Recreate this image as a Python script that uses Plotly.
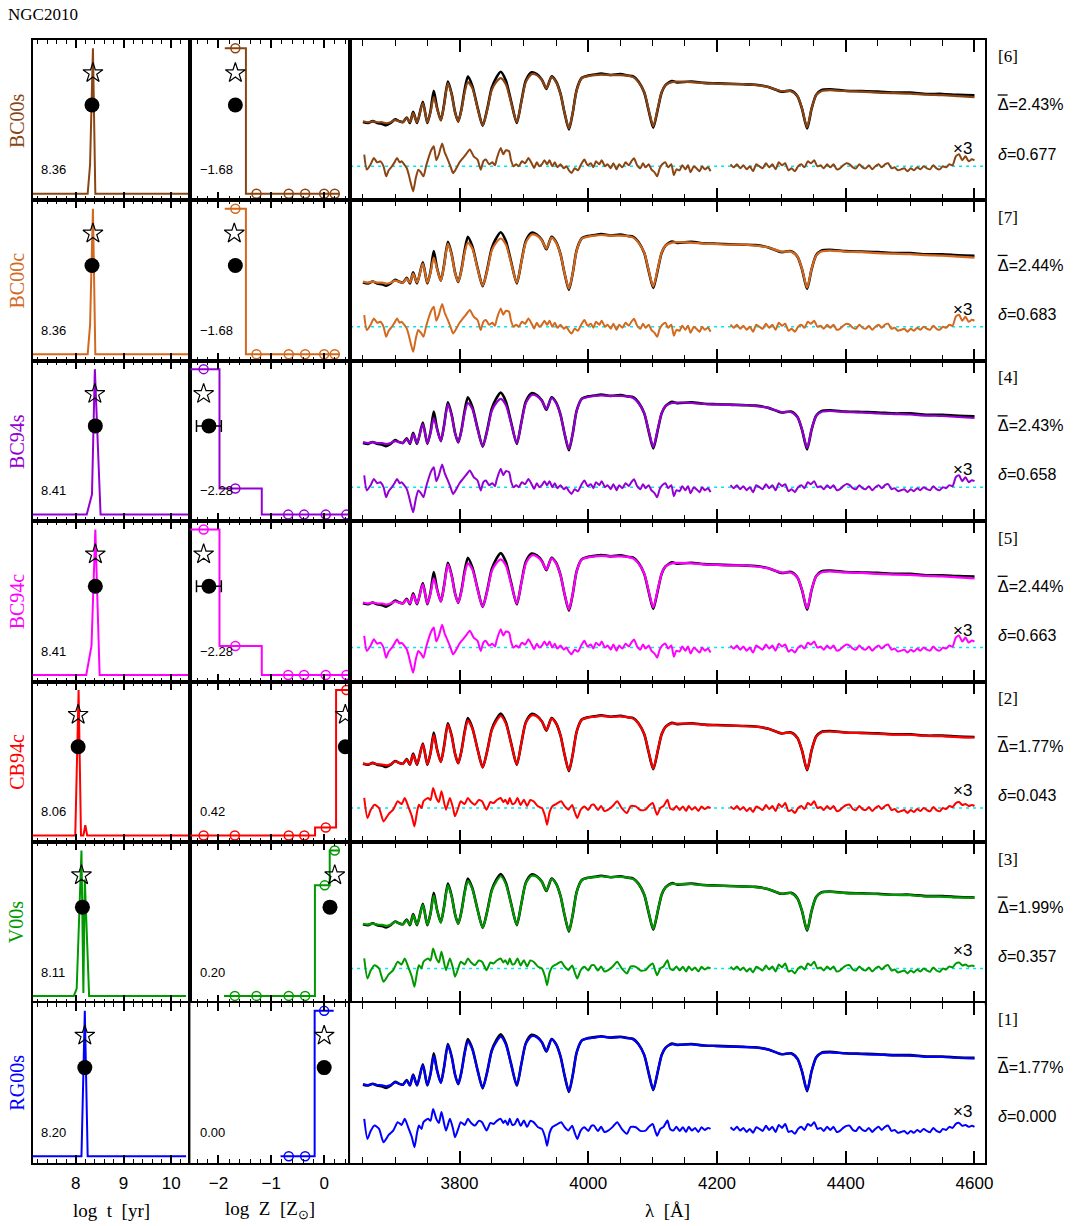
import plotly.graph_objects as go

# ---------------- data ----------------
MODELS = ["BC00s", "BC00c", "BC94s", "BC94c", "CB94c", "V00s", "RG00s"]
COLORS = ["#8B4513", "#D2691E", "#9400D3", "#FF00FF", "#FF0000", "#009900", "#0000FF"]
RANK = ["[6]", "[7]", "[4]", "[5]", "[2]", "[3]", "[1]"]
MEAN_DEV = ["2.43", "2.44", "2.43", "2.44", "1.77", "1.99", "1.77"]
DELTA = ["0.677", "0.683", "0.658", "0.663", "0.043", "0.357", "0.000"]
AGE_LABEL = ["8.36", "8.36", "8.41", "8.41", "8.06", "8.11", "8.20"]
Z_LABEL = ["\u22121.68", "\u22121.68", "\u22122.28", "\u22122.28", "0.42", "0.20", "0.00"]

# age distributions (log t, weight)
AGE_X = [
    [7.1, 8.25, 8.30, 8.36, 8.41, 10.38],
    [7.1, 8.25, 8.30, 8.36, 8.41, 10.38],
    [7.1, 8.23, 8.34, 8.40, 8.52, 10.38],
    [7.1, 8.22, 8.33, 8.41, 8.50, 10.38],
    [7.1, 7.99, 8.06, 8.11, 8.16, 8.20, 8.24, 10.37],
    [7.1, 7.96, 8.02, 8.12, 8.16, 8.19, 8.28, 10.31],
    [7.1, 8.12, 8.19, 8.25, 10.31],
]
AGE_W = [
    [0, 0, 0.2, 1.0, 0, 0],
    [0, 0, 0.2, 1.0, 0, 0],
    [0, 0, 0.14, 1.0, 0, 0],
    [0, 0, 0.2, 1.0, 0, 0],
    [0, 0, 1.0, 0, 0, 0.07, 0, 0],
    [0, 0, 0.05, 1.0, 0.02, 0.8, 0, 0],
    [0, 0, 1.0, 0, 0],
]
# metallicity grids (log Z/Zsun) and weights
Z_GRID = [
    [-1.68, -1.28, -0.67, -0.36, 0.0, 0.2],
    [-1.68, -1.28, -0.67, -0.36, 0.0, 0.2],
    [-2.28, -1.68, -0.68, -0.38, 0.03, 0.42],
    [-2.28, -1.68, -0.68, -0.38, 0.03, 0.42],
    [-2.28, -1.69, -0.67, -0.375, 0.03, 0.42],
    [-1.69, -1.28, -0.67, -0.36, 0.01, 0.2],
    [-0.67, -0.36, 0.0],
]
Z_W = [
    [1.0, 0, 0, 0, 0, 0],
    [1.0, 0, 0, 0, 0, 0],
    [1.0, 0.18, 0, 0, 0, 0],
    [1.0, 0.2, 0, 0, 0, 0],
    [0, 0, 0, 0, 0.055, 1.0],
    [0, 0, 0, 0, 0.76, 1.0],
    [0, 0, 1.0],
]
STAR_AGE = [8.36, 8.36, 8.40, 8.41, 8.05, 8.12, 8.19]
DOT_AGE = [8.34, 8.34, 8.41, 8.41, 8.05, 8.14, 8.19]
STAR_Z = [-1.68, -1.70, -2.28, -2.28, 0.40, 0.20, 0.0]
DOT_Z = [-1.68, -1.68, -2.18, -2.18, 0.40, 0.11, 0.0]
DOT_Z_ERR = [0.04, 0.04, 0.235, 0.235, 0.02, 0.04, 0.0]
STAR_LEVEL = 0.83
DOT_LEVEL = 0.61

# spectrum (normalised flux)
WAVE = [3650, 3658, 3665, 3672, 3680, 3686, 3693, 3700, 3706, 3712, 3718, 3723, 3728, 3734,
        3743, 3750, 3755, 3760, 3765, 3771, 3776, 3782, 3788, 3793, 3798, 3803, 3808, 3813,
        3820, 3828, 3836, 3843, 3850, 3857, 3864, 3872, 3880, 3889, 3896, 3903, 3912, 3920,
        3928, 3935, 3943, 3950, 3957, 3963, 3970, 3976, 3982, 3990, 4000, 4010, 4020, 4035,
        4050, 4061, 4070, 4078, 4087, 4094, 4101, 4108, 4114, 4120, 4130, 4138, 4160, 4180,
        4200, 4220, 4240, 4260, 4280, 4300, 4315, 4325, 4332, 4340, 4347, 4354, 4362, 4375,
        4400, 4425, 4450, 4475, 4500, 4525, 4550, 4575, 4600]
FLUX_OBS = [0.48, 0.47, 0.49, 0.47, 0.46, 0.445, 0.47, 0.51, 0.49, 0.48, 0.53, 0.47, 0.59, 0.47,
            0.70, 0.47, 0.60, 0.82, 0.64, 0.50, 0.67, 0.92, 0.78, 0.59, 0.485, 0.62, 0.83, 0.975,
            0.87, 0.64, 0.44, 0.62, 0.85, 0.96, 1.025, 0.93, 0.71, 0.47, 0.70, 0.93, 1.02, 1.0,
            0.94, 0.84, 0.975, 0.92, 0.785, 0.585, 0.40, 0.585, 0.83, 0.96, 0.985, 0.995, 1.005, 0.99,
            1.0, 0.985, 0.975, 0.92, 0.80, 0.60, 0.42, 0.62, 0.80, 0.88, 0.925, 0.91, 0.92, 0.905,
            0.90, 0.895, 0.89, 0.885, 0.86, 0.81, 0.82, 0.76, 0.625, 0.41, 0.625, 0.775, 0.825, 0.835,
            0.82, 0.815, 0.81, 0.80, 0.80, 0.785, 0.785, 0.775, 0.77]
FLUX_MODEL_A = [0.489, 0.478, 0.489, 0.478, 0.478, 0.467, 0.478, 0.50, 0.489, 0.478, 0.522, 0.478, 0.576, 0.478,
                0.685, 0.478, 0.587, 0.75, 0.63, 0.50, 0.663, 0.902, 0.772, 0.587, 0.489, 0.609, 0.804, 0.913,
                0.848, 0.63, 0.446, 0.609, 0.826, 0.913, 0.957, 0.891, 0.696, 0.478, 0.696, 0.913, 1.0, 0.989,
                0.935, 0.848, 0.967, 0.913, 0.783, 0.587, 0.413, 0.587, 0.826, 0.957, 0.978, 0.989, 0.995, 0.989,
                0.989, 0.984, 0.967, 0.913, 0.804, 0.609, 0.435, 0.63, 0.804, 0.88, 0.913, 0.918, 0.913, 0.902,
                0.897, 0.891, 0.891, 0.88, 0.859, 0.815, 0.815, 0.761, 0.63, 0.424, 0.63, 0.772, 0.815, 0.826,
                0.815, 0.81, 0.799, 0.793, 0.788, 0.777, 0.772, 0.761, 0.75]
FLUX_MODEL_B = [0.485, 0.475, 0.487, 0.476, 0.472, 0.462, 0.475, 0.505, 0.49, 0.478, 0.525, 0.475, 0.58, 0.475,
                0.69, 0.475, 0.595, 0.79, 0.635, 0.50, 0.665, 0.905, 0.775, 0.59, 0.487, 0.615, 0.815, 0.95,
                0.86, 0.635, 0.443, 0.615, 0.84, 0.94, 1.0, 0.915, 0.705, 0.474, 0.70, 0.925, 1.005, 0.995,
                0.938, 0.845, 0.97, 0.917, 0.785, 0.587, 0.407, 0.587, 0.828, 0.958, 0.982, 0.99, 1.0, 0.99,
                0.994, 0.985, 0.97, 0.917, 0.802, 0.605, 0.428, 0.625, 0.802, 0.88, 0.918, 0.914, 0.916, 0.903,
                0.898, 0.893, 0.89, 0.882, 0.86, 0.812, 0.817, 0.76, 0.628, 0.417, 0.628, 0.773, 0.82, 0.83,
                0.818, 0.812, 0.805, 0.797, 0.795, 0.782, 0.78, 0.77, 0.765]

# residuals (x3, same flux units), blue and red segments
RES_WAVE_BLUE_A = [3652, 3656, 3662, 3667, 3672, 3677, 3682, 3686, 3690, 3695, 3699, 3703, 3707, 3710,
                   3714, 3718, 3721, 3724, 3728, 3732, 3736, 3740, 3744, 3748, 3751, 3756, 3760, 3764,
                   3768, 3773, 3777, 3781, 3786, 3790, 3795, 3800, 3805, 3810, 3816, 3822, 3828, 3833,
                   3837, 3841, 3846, 3851, 3855, 3858, 3864, 3868, 3872, 3877, 3880, 3884, 3888, 3892,
                   3897, 3902, 3907, 3912, 3916, 3920, 3924, 3928, 3932, 3936, 3940, 3944, 3948, 3952,
                   3957, 3962, 3966, 3970, 3974, 3979, 3984, 3989, 3994, 3999, 4004, 4008, 4012, 4017,
                   4021, 4026, 4030, 4035, 4039, 4044, 4048, 4053, 4058, 4063, 4067, 4071, 4076, 4081,
                   4085, 4089, 4094, 4098, 4103, 4107, 4111, 4115, 4120, 4124, 4129, 4133, 4137, 4142,
                   4146, 4151, 4155, 4159, 4164, 4168, 4173, 4177, 4181, 4186, 4190]
RES_BLUE_A = [0.127, -0.036, 0.022, 0.09, 0.043, 0.054, 0.0, -0.109, -0.043, 0.0, 0.043, 0.09, 0.043, 0.054,
              0.022, -0.018, -0.087, -0.174, -0.272, -0.13, -0.036, -0.065, -0.109, 0.0, 0.073, 0.174, 0.217, 0.065,
              0.13, 0.247, 0.152, 0.087, 0.0, -0.073, -0.022, 0.043, 0.087, 0.13, 0.182, 0.109, 0.073, -0.036,
              0.054, 0.073, 0.022, 0.043, 0.011, 0.087, 0.199, 0.13, 0.174, 0.163, 0.065, 0.0, 0.022, 0.0,
              0.054, 0.033, 0.09, 0.033, -0.018, 0.043, 0.0, 0.022, 0.065, 0.022, 0.065, 0.0, 0.043, -0.011,
              0.022, -0.022, 0.0, -0.043, -0.073, -0.022, -0.043, 0.022, 0.073, 0.011, 0.033, -0.011, 0.054, 0.022,
              0.065, 0.0, 0.022, -0.022, 0.033, -0.033, 0.022, -0.011, 0.043, 0.011, 0.054, 0.087, 0.011, -0.022,
              0.033, -0.011, 0.022, -0.033, -0.065, -0.109, -0.022, 0.022, 0.043, -0.011, 0.022, -0.098, -0.033, -0.043,
              0.011, -0.033, 0.011, -0.065, 0.0, -0.022, -0.054, 0.0, -0.033, -0.011, -0.054]
RES_WAVE_BLUE_B = [3652, 3657, 3662, 3668, 3675, 3682, 3690, 3697, 3704, 3710, 3715, 3720, 3726, 3730,
                   3734, 3737, 3741, 3744, 3751, 3755, 3759, 3764, 3768, 3772, 3779, 3785, 3790, 3793,
                   3798, 3802, 3808, 3813, 3818, 3824, 3830, 3835, 3842, 3848, 3853, 3858, 3864, 3868,
                   3871, 3875, 3878, 3882, 3886, 3890, 3895, 3900, 3905, 3910, 3915, 3922, 3928, 3933,
                   3936, 3940, 3944, 3950, 3958, 3963, 3969, 3975, 3979, 3983, 3988, 3994, 4000, 4005,
                   4009, 4015, 4020, 4025, 4031, 4038, 4045, 4052, 4060, 4066, 4074, 4081, 4089, 4094,
                   4100, 4104, 4107, 4112, 4117, 4123, 4127, 4132, 4137, 4142, 4147, 4152, 4156, 4161,
                   4166, 4171, 4176, 4181, 4186, 4190]
RES_BLUE_B = [0.109, -0.109, -0.022, 0.036, 0.0, -0.145, -0.065, -0.018, 0.073, 0.043, 0.109, 0.022, -0.09, -0.199,
              -0.043, 0.036, 0.0, 0.073, 0.109, 0.087, 0.217, 0.109, 0.065, 0.182, -0.018, 0.109, 0.0, -0.09,
              0.0, 0.073, 0.043, 0.109, 0.065, 0.036, 0.087, 0.073, -0.018, 0.065, 0.054, 0.087, 0.109, 0.065,
              0.09, 0.043, 0.109, 0.043, 0.054, 0.109, 0.033, 0.09, 0.022, 0.087, 0.073, 0.018, 0.0, -0.09,
              -0.182, -0.043, 0.018, 0.043, 0.073, 0.022, -0.018, 0.033, -0.043, -0.109, -0.022, 0.018, -0.022, 0.033,
              0.036, -0.022, 0.022, -0.033, -0.018, 0.022, 0.073, 0.0, -0.054, 0.022, 0.018, -0.022, -0.018, 0.022,
              0.054, -0.022, -0.073, 0.0, 0.022, 0.09, 0.0, -0.018, 0.022, -0.022, 0.018, -0.033, 0.022, -0.018,
              0.011, -0.033, 0.018, -0.011, 0.011, 0.0]
RES_WAVE_RED = [4221, 4226, 4231, 4236, 4241, 4246, 4251, 4256, 4261, 4266, 4271, 4276, 4281, 4286,
                4291, 4296, 4301, 4306, 4311, 4316, 4321, 4326, 4331, 4336, 4341, 4346, 4351, 4356,
                4361, 4366, 4371, 4376, 4381, 4386, 4391, 4396, 4401, 4406, 4411, 4416, 4421, 4426,
                4431, 4436, 4441, 4446, 4451, 4456, 4461, 4466, 4471, 4476, 4481, 4486, 4491, 4496,
                4501, 4506, 4511, 4516, 4521, 4526, 4531, 4536, 4541, 4546, 4551, 4556, 4561, 4566,
                4571, 4576, 4581, 4586, 4591, 4596, 4600]
RES_RED_A = [0.022, -0.011, 0.022, -0.022, 0.011, -0.033, 0.0, -0.054, 0.022, 0.0, -0.022, 0.033, -0.011, 0.022,
             -0.033, 0.043, 0.011, 0.033, -0.043, -0.022, -0.054, 0.0, 0.022, -0.011, 0.054, 0.033, 0.065, 0.0,
             0.011, -0.022, 0.022, -0.011, 0.022, -0.033, -0.022, 0.011, 0.033, 0.022, -0.011, -0.022, 0.022, -0.011,
             -0.022, 0.011, -0.033, 0.0, 0.022, -0.011, 0.022, 0.033, -0.022, -0.011, -0.043, -0.033, -0.022, -0.054,
             -0.022, -0.043, -0.011, -0.033, 0.0, -0.022, -0.033, 0.011, -0.022, -0.033, 0.0, -0.011, 0.022, 0.011,
             0.109, 0.13, 0.065, 0.109, 0.054, 0.076, 0.065]
RES_RED_B = [0.018, -0.011, 0.022, -0.018, 0.011, -0.033, 0.0, -0.043, 0.018, 0.0, -0.022, 0.033, -0.011, 0.022,
             -0.033, 0.043, 0.011, 0.054, -0.033, -0.022, -0.054, 0.0, 0.022, -0.011, 0.054, 0.033, 0.073, 0.0,
             0.011, -0.022, 0.022, -0.011, 0.022, -0.033, -0.022, 0.011, 0.033, 0.036, -0.011, -0.022, 0.022, -0.011,
             -0.022, 0.011, -0.033, 0.0, 0.022, -0.011, 0.022, 0.036, -0.022, -0.011, -0.043, -0.033, -0.022, -0.054,
             -0.022, -0.043, -0.011, -0.033, 0.0, -0.022, -0.036, 0.011, -0.022, -0.036, 0.0, -0.011, 0.022, 0.011,
             0.054, 0.065, 0.033, 0.043, 0.022, 0.033, 0.022]

AGE_TICKS = [8, 9, 10]
Z_TICKS = [-2, -1, 0]
Z_TICKTEXT = ["\u22122", "\u22121", "0"]
WAVE_TICKS = [3800, 4000, 4200, 4400, 4600]

# ---------------- layout geometry ----------------
W, H = 1087, 1226
COLS = [(33, 192), (192, 353), (353, 993)]
ROW_TOP = 40.0
ROW_H = 160.43
X_RANGES = [[7.1, 10.4], [-2.53, 0.49], [3630, 4616]]
Y_RANGE_HIST = [-0.046, 1.057]
Y_RANGE_SPEC = [-0.37, 1.37]

SANS = "Liberation Sans, Arial, sans-serif"
SERIF = "Liberation Serif, Times New Roman, serif"

fig = go.Figure()
layout = {}
annotations = []
shapes = []


def step_xy(z, w):
    n = len(z)
    edges = [z[0] - (z[1] - z[0]) / 2]
    for k in range(n - 1):
        edges.append((z[k] + z[k + 1]) / 2)
    edges.append(z[-1] + (z[-1] - z[-2]) / 2)
    xs, ys = [], []
    for k in range(n):
        xs += [edges[k], edges[k + 1]]
        ys += [w[k], w[k]]
    return xs, ys


for i in range(7):
    top = ROW_TOP + i * ROW_H
    bot = top + ROW_H
    ydom = [1 - bot / H, 1 - top / H]
    col = COLORS[i]
    for j in range(3):
        n = i * 3 + j + 1
        xname = "xaxis" if n == 1 else f"xaxis{n}"
        yname = "yaxis" if n == 1 else f"yaxis{n}"
        xref = "x" if n == 1 else f"x{n}"
        yref = "y" if n == 1 else f"y{n}"
        x0, x1 = COLS[j]
        bottom_row = (i == 6)
        if j == 0:
            tv, tt, mdt, mt0, tl, mtl = AGE_TICKS, [str(v) for v in AGE_TICKS], 0.2, 8, 8, 4
        elif j == 1:
            tv, tt, mdt, mt0, tl, mtl = Z_TICKS, Z_TICKTEXT, 0.2, 0, 8, 4
        else:
            tv, tt, mdt, mt0, tl, mtl = WAVE_TICKS, [str(v) for v in WAVE_TICKS], 50, 3800, 12, 6
        layout[xname] = dict(
            domain=[x0 / W, x1 / W], range=X_RANGES[j], anchor=yref,
            tickmode="array", tickvals=tv, ticktext=tt, ticks="inside", ticklen=tl,
            tickwidth=1.5, tickcolor="black",
            minor=dict(ticks="inside", dtick=mdt, tick0=mt0, ticklen=mtl, tickwidth=1.2, tickcolor="black"),
            showline=True, linecolor="black", linewidth=2, mirror="allticks",
            showgrid=False, zeroline=False, showticklabels=bottom_row,
            tickfont=dict(family=SANS, size=17, color="black"), ticklabelstandoff=4,
        )
        layout[yname] = dict(
            domain=ydom, range=Y_RANGE_SPEC if j == 2 else Y_RANGE_HIST, anchor=xref,
            showline=True, linecolor="black", linewidth=2, mirror=True,
            ticks="", showticklabels=False, showgrid=False, zeroline=False,
        )

        if j == 0:
            fig.add_trace(go.Scatter(x=AGE_X[i], y=AGE_W[i], mode="lines", xaxis=xref, yaxis=yref,
                                     line=dict(color=col, width=2), cliponaxis=True, showlegend=False))
            fig.add_trace(go.Scatter(x=[STAR_AGE[i]], y=[STAR_LEVEL], mode="markers", xaxis=xref, yaxis=yref,
                                     marker=dict(symbol="star-open", size=15, color="black",
                                                 line=dict(width=1.2, color="black")), showlegend=False))
            fig.add_trace(go.Scatter(x=[DOT_AGE[i]], y=[DOT_LEVEL], mode="markers", xaxis=xref, yaxis=yref,
                                     marker=dict(symbol="circle", size=15, color="black"), showlegend=False))
            annotations.append(dict(text=AGE_LABEL[i], xref=f"{xref} domain", yref=f"{yref} domain",
                                    x=0.04, y=0.19, xanchor="left", yanchor="middle", showarrow=False,
                                    font=dict(family=SANS, size=13, color="black")))
        elif j == 1:
            sx, sy = step_xy(Z_GRID[i], Z_W[i])
            fig.add_trace(go.Scatter(x=sx, y=sy, mode="lines", xaxis=xref, yaxis=yref,
                                     line=dict(color=col, width=2), showlegend=False))
            fig.add_trace(go.Scatter(x=Z_GRID[i], y=Z_W[i], mode="markers", xaxis=xref, yaxis=yref,
                                     marker=dict(symbol="circle-open", size=9, color=col,
                                                 line=dict(width=1.5, color=col)),
                                     cliponaxis=False, showlegend=False))
            fig.add_trace(go.Scatter(x=[STAR_Z[i]], y=[STAR_LEVEL], mode="markers", xaxis=xref, yaxis=yref,
                                     marker=dict(symbol="star-open", size=15, color="black",
                                                 line=dict(width=1.2, color="black")), showlegend=False))
            fig.add_trace(go.Scatter(x=[DOT_Z[i]], y=[DOT_LEVEL], mode="markers", xaxis=xref, yaxis=yref,
                                     error_x=dict(type="data", array=[DOT_Z_ERR[i]], color="black",
                                                  thickness=1.5, width=6),
                                     marker=dict(symbol="circle", size=15, color="black"), showlegend=False))
            annotations.append(dict(text=Z_LABEL[i], xref=f"{xref} domain", yref=f"{yref} domain",
                                    x=0.05, y=0.19, xanchor="left", yanchor="middle", showarrow=False,
                                    font=dict(family=SANS, size=13, color="black")))
        else:
            grpA = i < 4
            model = FLUX_MODEL_A if grpA else FLUX_MODEL_B
            rwb = RES_WAVE_BLUE_A if grpA else RES_WAVE_BLUE_B
            rb = RES_BLUE_A if grpA else RES_BLUE_B
            rr = RES_RED_A if grpA else RES_RED_B
            shapes.append(dict(type="line", xref=f"{xref} domain", yref=yref, x0=0, x1=1, y0=0, y1=0,
                               line=dict(color="#00E5EE", width=1.5, dash="3px,4px"), layer="below"))
            fig.add_trace(go.Scatter(x=WAVE, y=FLUX_OBS, mode="lines", xaxis=xref, yaxis=yref,
                                     line=dict(color="black", width=2.6, shape="spline", smoothing=0.7),
                                     showlegend=False))
            fig.add_trace(go.Scatter(x=WAVE, y=model, mode="lines", xaxis=xref, yaxis=yref,
                                     line=dict(color=col, width=2.2, shape="spline", smoothing=0.7),
                                     showlegend=False))
            fig.add_trace(go.Scatter(x=rwb, y=rb, mode="lines", xaxis=xref, yaxis=yref,
                                     line=dict(color=col, width=2, shape="spline", smoothing=0.6),
                                     showlegend=False))
            fig.add_trace(go.Scatter(x=RES_WAVE_RED, y=rr, mode="lines", xaxis=xref, yaxis=yref,
                                     line=dict(color=col, width=2, shape="spline", smoothing=0.6),
                                     showlegend=False))
            annotations.append(dict(text="\u00d73", xref=xref, yref=yref, x=4582, y=0.19,
                                    xanchor="center", yanchor="middle", showarrow=False,
                                    font=dict(family=SANS, size=17, color="black")))

    # left model label
    annotations.append(dict(text=MODELS[i], xref="paper", yref="paper", x=17 / W, y=1 - (top + ROW_H / 2) / H,
                            xanchor="center", yanchor="middle", textangle=-90, showarrow=False,
                            font=dict(family=SERIF, size=20, color=col)))
    # right labels
    annotations.append(dict(text=RANK[i], xref="paper", yref="paper", x=1004 / W, y=1 - (top + 17) / H,
                            xanchor="left", yanchor="middle", showarrow=False,
                            font=dict(family=SERIF, size=17, color="black")))
    annotations.append(dict(text="\u0394=" + MEAN_DEV[i] + "%", xref="paper", yref="paper",
                            x=1004 / W, y=1 - (top + 65) / H, xanchor="left", yanchor="middle",
                            showarrow=False, font=dict(family=SANS, size=16, color="black")))
    # overbar on Delta
    shapes.append(dict(type="line", xref="paper", yref="paper", x0=1006 / W, x1=1016 / W,
                       y0=1 - (top + 55) / H, y1=1 - (top + 55) / H, line=dict(color="black", width=1.3)))
    annotations.append(dict(text="<i>\u03b4</i>=" + DELTA[i], xref="paper", yref="paper",
                            x=1004 / W, y=1 - (top + 114) / H, xanchor="left", yanchor="middle",
                            showarrow=False, font=dict(family=SANS, size=16, color="black")))

# title and axis titles
annotations.append(dict(text="NGC2010", xref="paper", yref="paper", x=6 / W, y=1 - 14 / H,
                        xanchor="left", yanchor="middle", showarrow=False,
                        font=dict(family=SERIF, size=17, color="black")))
annotations.append(dict(text="log  t  [yr]", xref="paper", yref="paper", x=112 / W, y=1 - 1210 / H,
                        xanchor="center", yanchor="middle", showarrow=False,
                        font=dict(family=SERIF, size=19, color="black")))
annotations.append(dict(text="log  Z  [Z<sub>\u2299</sub>]", xref="paper", yref="paper", x=272 / W,
                        y=1 - 1210 / H, xanchor="center", yanchor="middle", showarrow=False,
                        font=dict(family=SERIF, size=19, color="black")))
annotations.append(dict(text="\u03bb  [\u00c5]", xref="paper", yref="paper", x=673 / W, y=1 - 1210 / H,
                        xanchor="center", yanchor="middle", showarrow=False,
                        font=dict(family=SERIF, size=19, color="black")))

fig.update_layout(width=W, height=H, margin=dict(l=0, r=0, t=0, b=0),
                  paper_bgcolor="white", plot_bgcolor="white", showlegend=False,
                  annotations=annotations, shapes=shapes, **layout)

fig.write_html("out.html", config={"displayModeBar": False},
               post_script="document.body.style.margin='0';document.body.style.overflow='hidden';")
